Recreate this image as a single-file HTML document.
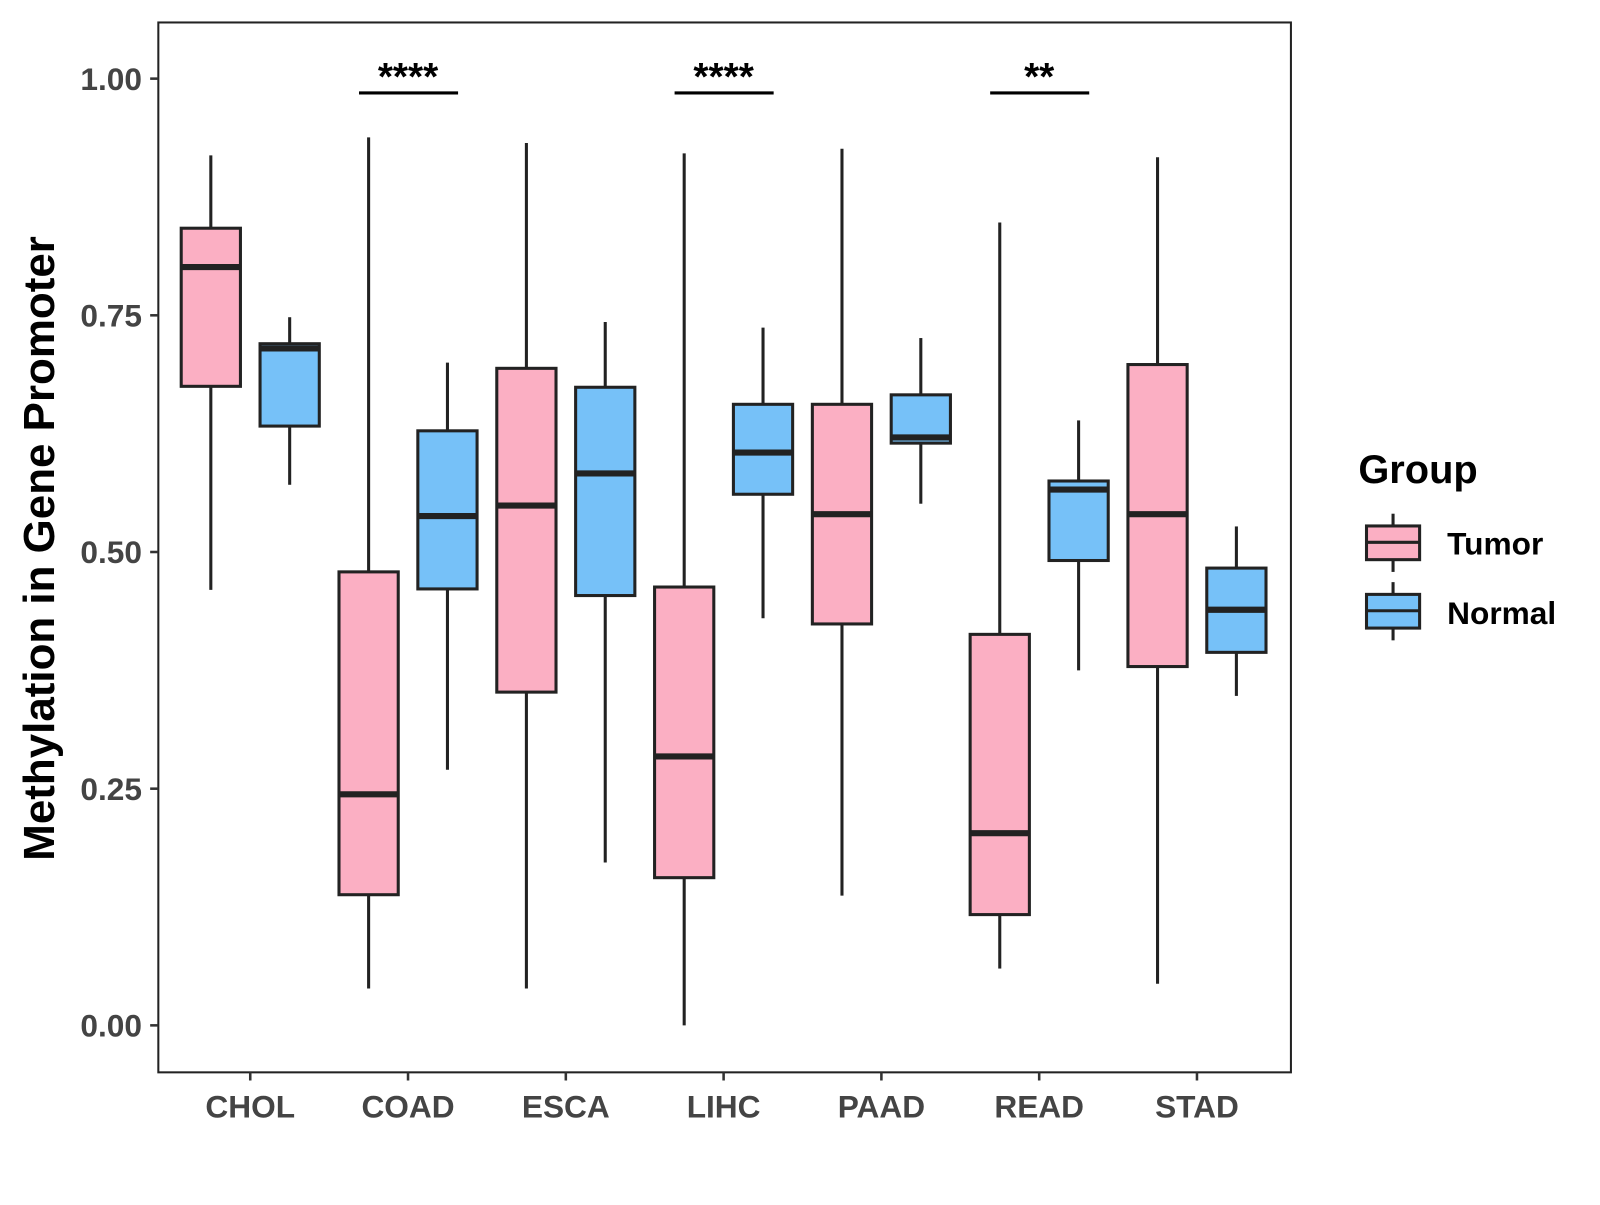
<!DOCTYPE html>
<html><head><meta charset="utf-8"><style>
body{margin:0;background:#fff;width:1600px;height:1200px;overflow:hidden}
svg text{font-family:"Liberation Sans",Arial,sans-serif;font-weight:bold}
</style></head><body>
<svg id="chart" width="1600" height="1200" viewBox="0 0 1566.6 1175" xmlns="http://www.w3.org/2000/svg">
<rect x="155" y="22" width="1109" height="1028" fill="#fff" stroke="#222" stroke-width="2"/>
<g id="marks"></g>
<text transform="translate(53,537) rotate(-90)" text-anchor="middle" font-size="43" fill="#000">Methylation in Gene Promoter</text>
<g>
<text x="1330" y="473" font-size="39" fill="#000">Group</text>
<g>
<line x1="1364" y1="503" x2="1364" y2="560" stroke="#222" stroke-width="3"/>
<rect x="1338" y="515" width="52" height="33" fill="#FBAFC3" stroke="#222" stroke-width="3"/>
<line x1="1338" y1="531" x2="1390" y2="531" stroke="#222" stroke-width="3"/>
<text x="1417" y="543" font-size="31" fill="#000">Tumor</text></g>
<g>
<line x1="1364" y1="570" x2="1364" y2="627" stroke="#222" stroke-width="3"/>
<rect x="1338" y="582" width="52" height="33" fill="#76C1F8" stroke="#222" stroke-width="3"/>
<line x1="1338" y1="598" x2="1390" y2="598" stroke="#222" stroke-width="3"/>
<text x="1417" y="611" font-size="31" fill="#000">Normal</text></g>
</g>
</svg>
<script>
const categories=["CHOL","COAD","ESCA","LIHC","PAAD","READ","STAD"];
// [low, q1, median, q3, high]
const tumorStats=[[0.460,0.675,0.801,0.842,0.919],[0.039,0.138,0.244,0.479,0.938],[0.039,0.352,0.549,0.694,0.932],[0.000,0.156,0.284,0.463,0.921],[0.137,0.424,0.540,0.656,0.926],[0.060,0.117,0.203,0.413,0.848],[0.044,0.379,0.540,0.698,0.917]];
const normalStats=[[0.571,0.633,0.715,0.720,0.748],[0.270,0.461,0.538,0.628,0.700],[0.172,0.454,0.583,0.674,0.743],[0.430,0.561,0.605,0.656,0.737],[0.551,0.615,0.621,0.666,0.726],[0.375,0.491,0.566,0.575,0.639],[0.348,0.394,0.439,0.483,0.527]];
const yTicks=[0,0.25,0.5,0.75,1.0];
const yTickLabels=["0.00","0.25","0.50","0.75","1.00"];
const sigCategories=["COAD","LIHC","READ"];
const sigLabels=["****","****","**"];
const NS="http://www.w3.org/2000/svg";
const y=v=>1004-v*927;
const x=i=>245+i*154.5;
const g=document.getElementById('marks');
function el(t,a,p){const e=document.createElementNS(NS,t);for(const k in a)e.setAttribute(k,a[k]);(p||g).appendChild(e);return e;}
yTicks.forEach((v,i)=>{
 const l=el('line',{x1:147,x2:155,y1:y(v),y2:y(v),stroke:'#333','stroke-width':2.5});
 
 
 const t=el('text',{x:139,y:y(v)+11,'text-anchor':'end','font-size':31,fill:'#444'});
 t.textContent=yTickLabels[i];
 
 
});
categories.forEach((c,i)=>{
 const l=el('line',{x1:x(i),x2:x(i),y1:1050,y2:1058,stroke:'#333','stroke-width':2.5});
 
 
 const t=el('text',{x:x(i),y:1094,'text-anchor':'middle','font-size':31,fill:'#444'});
 t.textContent=c;
 
 
});
function box(cx,s,fill,name){
 const gg=el('g',{});
 
 
 el('line',{x1:cx,x2:cx,y1:y(s[4]),y2:y(s[3]),stroke:'#222','stroke-width':3},gg);
 el('line',{x1:cx,x2:cx,y1:y(s[1]),y2:y(s[0]),stroke:'#222','stroke-width':3},gg);
 el('rect',{x:cx-29,y:y(s[3]),width:58,height:y(s[1])-y(s[3]),fill:fill,stroke:'#222','stroke-width':3},gg);
 el('line',{x1:cx-29,x2:cx+29,y1:y(s[2]),y2:y(s[2]),stroke:'#222','stroke-width':6},gg);
}
categories.forEach((c,i)=>{
 box(x(i)-38.6,tumorStats[i],'#FBAFC3','box-tumor-'+c.toLowerCase());
 box(x(i)+38.6,normalStats[i],'#76C1F8','box-normal-'+c.toLowerCase());
});
sigCategories.forEach((c,k)=>{
 const i=categories.indexOf(c);
 const l=el('line',{x1:x(i)-48,x2:x(i)+49,y1:91,y2:91,stroke:'#000','stroke-width':3});
 
 
 const t=el('text',{x:x(i),y:88,'text-anchor':'middle','font-size':38,fill:'#000'});
 t.textContent=sigLabels[k];
 
 
});
</script>
</body></html>
